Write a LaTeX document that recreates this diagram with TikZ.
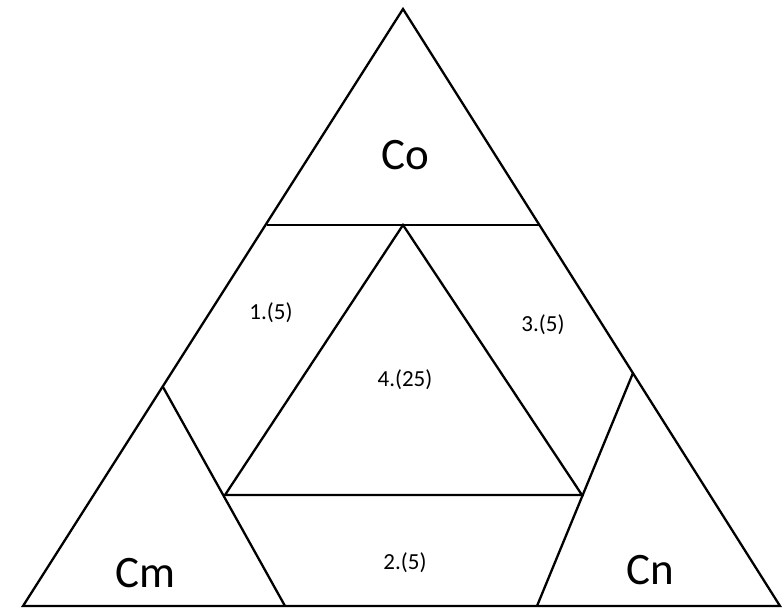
\documentclass[tikz,border=0pt]{standalone}
\usepackage{fontspec}
\setmainfont{Carlito}
\begin{document}
\begin{tikzpicture}[x=1pt,y=-1pt,
  edge/.style={line width=2.3pt, line join=miter, black},
  big/.style={font=\fontsize{45}{50}\selectfont, inner sep=0pt},
  small/.style={font=\fontsize{23}{27}\selectfont, inner sep=0pt}]
\useasboundingbox (0,0) rectangle (782,609);
% outer triangle
\coordinate (A) at (403,9);
\coordinate (BL) at (23,606);
\coordinate (BR) at (780,606);
% top band line
\coordinate (TL) at (267,225);
\coordinate (TR) at (540,225);
% inner triangle
\coordinate (IA) at (403,225);
\coordinate (IL) at (225,495);
\coordinate (IR) at (582,495);
% small corner triangles
\coordinate (CmT) at (163,387);
\coordinate (CmR) at (285,606);
\coordinate (CnT) at (633,373);
\coordinate (CnL) at (537,606);
\draw[edge] (A) -- (BL) -- (BR) -- cycle;
\draw[edge] (TL) -- (TR);
\draw[edge] (IA) -- (IL) -- (IR) -- cycle;
\draw[edge] (CmT) -- (CmR);
\draw[edge] (CnT) -- (CnL);
\node[big] (co) at (405,155) {Co};
\node[big] (cm) at (145,573) {Cm};
\node[big] (cn) at (650,570) {Cn};
\node[small] (n1) at (271,313) {1.(5)};
\node[small] (n3) at (543,325) {3.(5)};
\node[small] (n4) at (405,380) {4.(25)};
\node[small] (n2) at (405,563) {2.(5)};
\end{tikzpicture}
\end{document}
